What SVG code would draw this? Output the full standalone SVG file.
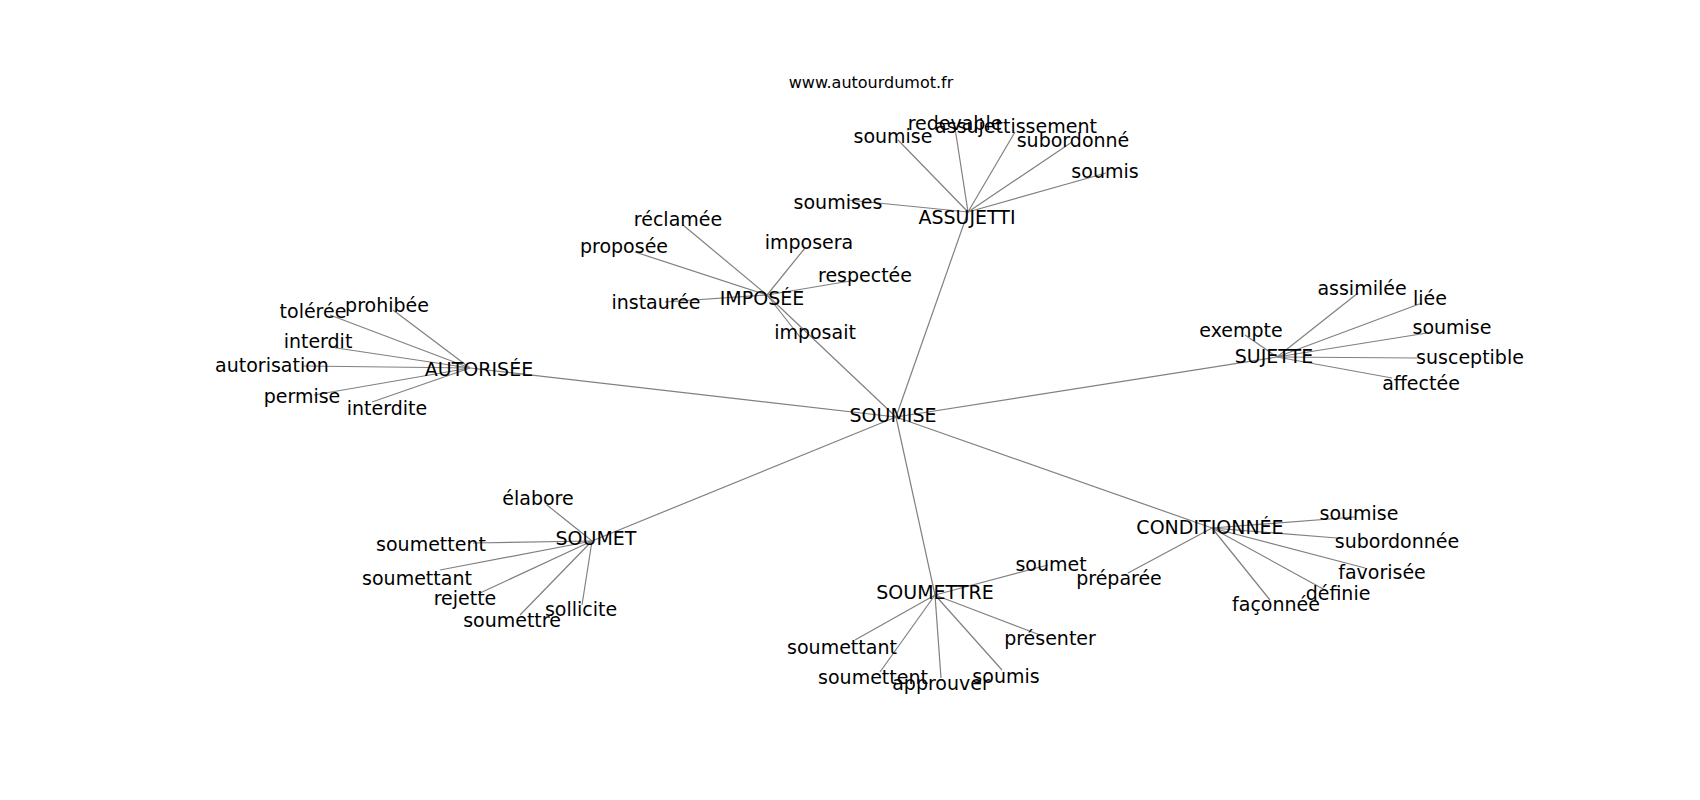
<svg xmlns="http://www.w3.org/2000/svg" width="1700" height="800" viewBox="0 0 1700 800">
<style>
text{font-family:"DejaVu Sans","Liberation Sans",sans-serif;font-size:19px;fill:#000;text-anchor:middle}
.title{font-size:16px}
#edges line{stroke:#808080;stroke-width:1.2}
</style>
<rect width="1700" height="800" fill="#fff"/>
<text class="title" x="871" y="88">www.autourdumot.fr</text>
<g id="edges">
<line x1="896" y1="417" x2="767" y2="295"/>
<line x1="896" y1="417" x2="968" y2="212"/>
<line x1="896" y1="417" x2="470" y2="368"/>
<line x1="896" y1="417" x2="1277" y2="357"/>
<line x1="896" y1="417" x2="592" y2="541"/>
<line x1="896" y1="417" x2="935" y2="595"/>
<line x1="896" y1="417" x2="1212" y2="528"/>
<line x1="968" y1="212" x2="848" y2="200"/>
<line x1="968" y1="212" x2="898" y2="140"/>
<line x1="968" y1="212" x2="955" y2="128"/>
<line x1="968" y1="212" x2="1015" y2="132"/>
<line x1="968" y1="212" x2="1072" y2="142"/>
<line x1="968" y1="212" x2="1106" y2="173"/>
<line x1="767" y1="295" x2="683" y2="225"/>
<line x1="767" y1="295" x2="635" y2="252"/>
<line x1="767" y1="295" x2="805" y2="248"/>
<line x1="767" y1="295" x2="856" y2="280"/>
<line x1="767" y1="295" x2="665" y2="302"/>
<line x1="767" y1="295" x2="800" y2="337"/>
<line x1="470" y1="368" x2="330" y2="315"/>
<line x1="470" y1="368" x2="393" y2="310"/>
<line x1="470" y1="368" x2="330" y2="347"/>
<line x1="470" y1="368" x2="303" y2="366"/>
<line x1="470" y1="368" x2="314" y2="395"/>
<line x1="470" y1="368" x2="372" y2="402"/>
<line x1="1277" y1="357" x2="1245" y2="335"/>
<line x1="1277" y1="357" x2="1358" y2="293"/>
<line x1="1277" y1="357" x2="1422" y2="303"/>
<line x1="1277" y1="357" x2="1427" y2="333"/>
<line x1="1277" y1="357" x2="1417" y2="358"/>
<line x1="1277" y1="357" x2="1392" y2="378"/>
<line x1="592" y1="541" x2="547" y2="505"/>
<line x1="592" y1="541" x2="473" y2="543"/>
<line x1="592" y1="541" x2="440" y2="570"/>
<line x1="592" y1="541" x2="480" y2="593"/>
<line x1="592" y1="541" x2="520" y2="615"/>
<line x1="592" y1="541" x2="582" y2="605"/>
<line x1="935" y1="595" x2="1048" y2="565"/>
<line x1="935" y1="595" x2="855" y2="640"/>
<line x1="935" y1="595" x2="880" y2="672"/>
<line x1="935" y1="595" x2="941" y2="678"/>
<line x1="935" y1="595" x2="1002" y2="670"/>
<line x1="935" y1="595" x2="1040" y2="635"/>
<line x1="1212" y1="528" x2="1128" y2="573"/>
<line x1="1212" y1="528" x2="1355" y2="517"/>
<line x1="1212" y1="528" x2="1337" y2="538"/>
<line x1="1212" y1="528" x2="1365" y2="568"/>
<line x1="1212" y1="528" x2="1325" y2="590"/>
<line x1="1212" y1="528" x2="1270" y2="600"/>
</g>
<g id="n-soumise"><text x="893" y="422">SOUMISE</text></g>
<g id="n-imposee"><text x="762" y="305">IMPOSÉE</text></g>
<g id="n-assujetti"><text x="967" y="224">ASSUJETTI</text></g>
<g id="n-autorisee"><text x="479" y="376">AUTORISÉE</text></g>
<g id="n-sujette"><text x="1274" y="363">SUJETTE</text></g>
<g id="n-soumet"><text x="596" y="545">SOUMET</text></g>
<g id="n-soumettre"><text x="935" y="599">SOUMETTRE</text></g>
<g id="n-conditionnee"><text x="1210" y="534">CONDITIONNÉE</text></g>
<g id="a-soumises"><text x="838" y="209">soumises</text></g>
<g id="a-soumise"><text x="893" y="143">soumise</text></g>
<g id="a-redevable"><text x="955" y="130">redevable</text></g>
<g id="a-assujettissement"><text x="1016" y="133">assujettissement</text></g>
<g id="a-subordonne"><text x="1073" y="147">subordonné</text></g>
<g id="a-soumis"><text x="1105" y="178">soumis</text></g>
<g id="i-reclamee"><text x="678" y="226">réclamée</text></g>
<g id="i-proposee"><text x="624" y="253">proposée</text></g>
<g id="i-imposera"><text x="809" y="249">imposera</text></g>
<g id="i-respectee"><text x="865" y="282">respectée</text></g>
<g id="i-instauree"><text x="656" y="309">instaurée</text></g>
<g id="i-imposait"><text x="815" y="339">imposait</text></g>
<g id="o-toleree"><text x="313" y="318">tolérée</text></g>
<g id="o-prohibee"><text x="387" y="312">prohibée</text></g>
<g id="o-interdit"><text x="318" y="348">interdit</text></g>
<g id="o-autorisation"><text x="272" y="372">autorisation</text></g>
<g id="o-permise"><text x="302" y="403">permise</text></g>
<g id="o-interdite"><text x="387" y="415">interdite</text></g>
<g id="s-exempte"><text x="1241" y="337">exempte</text></g>
<g id="s-assimilee"><text x="1362" y="295">assimilée</text></g>
<g id="s-liee"><text x="1430" y="305">liée</text></g>
<g id="s-soumise"><text x="1452" y="334">soumise</text></g>
<g id="s-susceptible"><text x="1470" y="364">susceptible</text></g>
<g id="s-affectee"><text x="1421" y="390">affectée</text></g>
<g id="m-elabore"><text x="538" y="505">élabore</text></g>
<g id="m-soumettent"><text x="431" y="551">soumettent</text></g>
<g id="m-soumettant"><text x="417" y="585">soumettant</text></g>
<g id="m-rejette"><text x="465" y="605">rejette</text></g>
<g id="m-soumettre"><text x="512" y="627">soumettre</text></g>
<g id="m-sollicite"><text x="581" y="616">sollicite</text></g>
<g id="t-soumet"><text x="1051" y="571">soumet</text></g>
<g id="t-soumettant"><text x="842" y="654">soumettant</text></g>
<g id="t-soumettent"><text x="873" y="684">soumettent</text></g>
<g id="t-approuver"><text x="941" y="690">approuver</text></g>
<g id="t-soumis"><text x="1006" y="683">soumis</text></g>
<g id="t-presenter"><text x="1050" y="645">présenter</text></g>
<g id="c-preparee"><text x="1119" y="585">préparée</text></g>
<g id="c-soumise"><text x="1359" y="520">soumise</text></g>
<g id="c-subordonnee"><text x="1397" y="548">subordonnée</text></g>
<g id="c-favorisee"><text x="1382" y="579">favorisée</text></g>
<g id="c-definie"><text x="1338" y="600">définie</text></g>
<g id="c-faconnee"><text x="1276" y="611">façonnée</text></g>
</svg>
